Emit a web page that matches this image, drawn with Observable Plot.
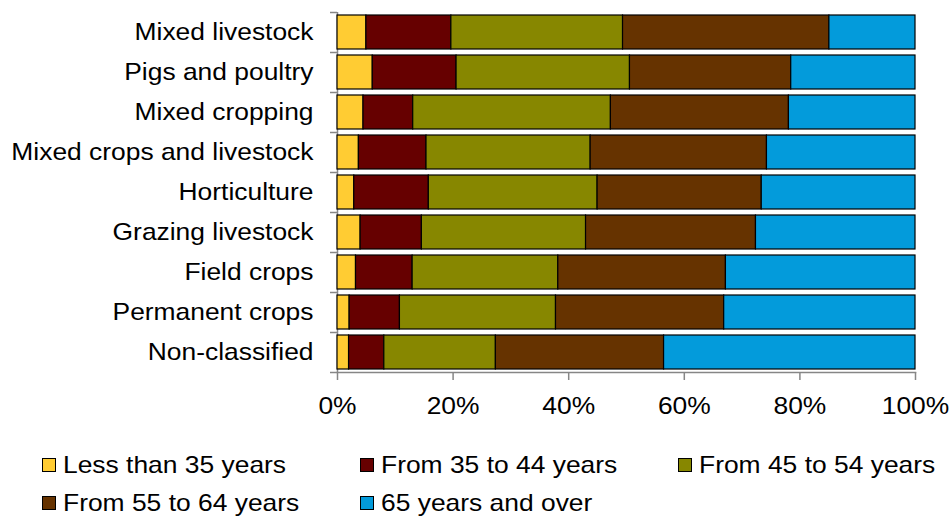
<!DOCTYPE html>
<html>
<head>
<meta charset="utf-8">
<script src="https://cdn.jsdelivr.net/npm/d3@7"></script>
<script src="https://cdn.jsdelivr.net/npm/@observablehq/plot@0.6"></script>
<style>
  html, body { margin: 0; padding: 0; background: #fff; }
  #wrap { position: relative; width: 952px; height: 516px; font-family: "Liberation Sans", Arial, sans-serif; color: #000; }
  #chart svg { display: block; }
  .item { position: absolute; display: flex; align-items: center; height: 24px; font-size: 24px; line-height: 24px; white-space: nowrap; }
  .sw { width: 12px; height: 12px; border: 1px solid #000; margin-right: 7px; flex: none; }
  .lab { display: inline-block; transform: scaleX(1.1); transform-origin: left center; }
</style>
</head>
<body>
<div id="wrap">
  <div id="chart"></div>
  <div id="legend"></div>
</div>
<script>
const categories = [
  "Mixed livestock", "Pigs and poultry", "Mixed cropping", "Mixed crops and livestock",
  "Horticulture", "Grazing livestock", "Field crops", "Permanent crops", "Non-classified"
];
const groups = [
  "Less than 35 years", "From 35 to 44 years", "From 45 to 54 years",
  "From 55 to 64 years", "65 years and over"
];
const lessThan35 = [5.0, 6.1, 4.5, 3.7, 2.9, 4.0, 3.2, 2.1, 2.0];
const from35to44 = [14.7, 14.5, 8.6, 11.7, 12.9, 10.6, 9.8, 8.7, 6.1];
const from45to54 = [29.7, 30.0, 34.2, 28.4, 29.2, 28.4, 25.2, 27.0, 19.3];
const from55to64 = [35.7, 27.9, 30.8, 30.5, 28.4, 29.4, 29.0, 29.1, 29.1];
const over65     = [14.9, 21.5, 21.9, 25.7, 26.6, 27.6, 32.8, 33.1, 43.5];
const colors = ["#FFCC33", "#660000", "#878700", "#663300", "#039BDB"];
const xTicks = [0, 20, 40, 60, 80, 100];

const series = [lessThan35, from35to44, from45to54, from55to64, over65];
const data = categories.flatMap((c, i) =>
  groups.map((g, j) => ({category: c, group: g, value: series[j][i]}))
);

const axisGrey = "#868686";
const chart = Plot.plot({
  width: 952,
  height: 430,
  marginLeft: 337,
  marginRight: 37,
  marginTop: 12,
  marginBottom: 58,
  style: {fontFamily: "'Liberation Sans', Arial, sans-serif", fontSize: "24px", color: "#000", background: "#fff"},
  x: {domain: [0, 100]},
  y: {domain: categories, padding: 0},
  color: {domain: groups, range: colors},
  marks: [
    Plot.ruleX([0], {stroke: axisGrey, strokeWidth: 1.5}),
    Plot.frame({anchor: "bottom", stroke: axisGrey, strokeWidth: 1.5}),
    Plot.barX(data, {
      x: "value", y: "category", fill: "group", order: groups,
      stroke: "#000", strokeWidth: 1.2, insetTop: 3, insetBottom: 3
    }),
    Plot.axisX(xTicks, {tickFormat: d => d + "%", tickSize: 8, tickPadding: 16, stroke: axisGrey, strokeWidth: 1.5, fill: "#000", label: null}),
    Plot.axisY({tickSize: 0, tickPadding: 24, fill: "#000", label: null}),
    Plot.axisY({text: null, tickSize: 7, dy: -20, stroke: axisGrey, strokeWidth: 1.5, label: null}),
    Plot.axisY([categories[categories.length - 1]], {text: null, tickSize: 7, dy: 20, stroke: axisGrey, strokeWidth: 1.5, label: null})
  ]
});

// slight horizontal stretch of tick labels, as in the reference rendering
chart.querySelectorAll('g[aria-label$="tick label"] text').forEach(t => {
  const tr = t.getAttribute("transform");
  if (tr) t.setAttribute("transform", tr + " scale(1.1,1)");
  else {
    const x = +t.getAttribute("x") || 0, y = +t.getAttribute("y") || 0;
    t.setAttribute("transform", `translate(${x},${y}) scale(1.1,1) translate(${-x},${-y})`);
  }
});
document.getElementById("chart").appendChild(chart);

// legend
const legend = document.getElementById("legend");
const colLeft = [42, 360, 678];
const rowTop = [453, 491];
groups.forEach((g, i) => {
  const row = Math.floor(i / 3), col = i % 3;
  const item = document.createElement("div");
  item.className = "item";
  item.style.left = colLeft[col] + "px";
  item.style.top = rowTop[row] + "px";
  const sw = document.createElement("span");
  sw.className = "sw";
  sw.style.background = colors[i];
  const lab = document.createElement("span");
  lab.className = "lab";
  lab.textContent = g;
  item.appendChild(sw);
  item.appendChild(lab);
  legend.appendChild(item);
});
</script>
</body>
</html>
